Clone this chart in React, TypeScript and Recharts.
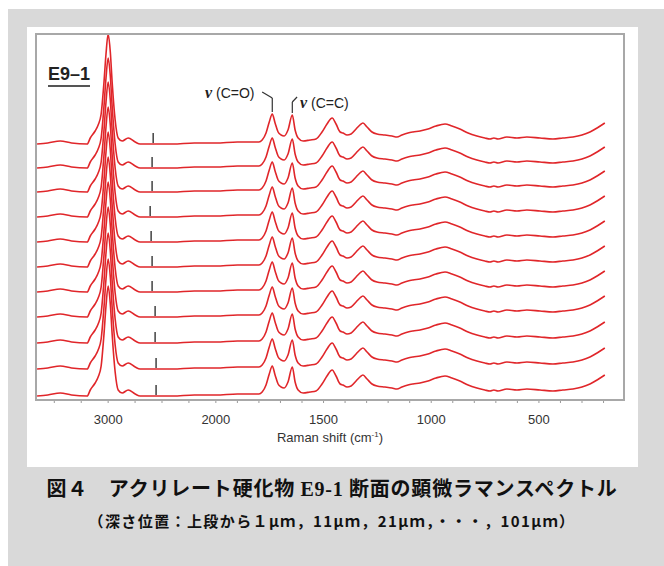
import React from "react"
import { LineChart, Line, XAxis, YAxis, ReferenceLine } from "recharts"

// Raman shift (cm-1) sampled along one spectrum, high to low
const waveNumbers = [
  3660, 3560, 3445, 3340, 3195, 3166, 3121, 3093, 3065, 3040, 3020, 3000, 2980, 2963, 2935, 2907,
  2870, 2814, 2749, 2703, 2590, 2400, 2200, 2000, 1900, 1800, 1785, 1767, 1752, 1738, 1725, 1711,
  1697, 1683, 1665, 1645, 1632, 1618, 1595, 1563, 1535, 1507, 1484, 1460, 1442, 1423, 1410, 1391,
  1372, 1349, 1331, 1317, 1298, 1275, 1252, 1215, 1182, 1159, 1136, 1108, 1085, 1052, 1015, 978,
  936, 904, 867, 829, 788, 751, 727, 709, 690, 649, 602, 556, 495, 435, 389, 342, 300, 263, 230, 194,
]

// intensity above the baseline (same shape for every depth)
const intensity = [
  0, 1, 3, 1, 0, 6, 13, 19, 30, 60, 90, 110, 92, 62, 24, 6,
  3, 6, 2, 0, 0, 0, 1, 1, 2, 2, 4, 11, 22, 30, 21, 12,
  9, 8, 14, 29, 14, 6, 3, 4, 5, 12, 20, 26, 20, 12, 11, 9,
  10, 15, 19, 21, 17, 12, 10, 9, 8, 7, 9, 11, 12, 13, 15, 18,
  20, 18, 15, 11, 8, 6, 5, 6, 5, 7, 6, 7, 6, 5, 6, 7, 9, 12, 16, 21,
]

// depth positions (um) and the vertical offset of each trace
const depths = [1, 11, 21, 31, 41, 51, 61, 71, 81, 91, 101]
const offsets = [256, 232, 208, 183, 158, 133, 108, 83, 57, 31, 4]
const markerShift = [2582, 2592, 2592, 2610, 2601, 2592, 2592, 2564, 2564, 2555, 2555]

const majorTicks = [3000, 2000, 1500, 1000, 500]
const minorTicks = [
  200, 300, 400, 500, 600, 700, 800, 900, 1000, 1100, 1200, 1300, 1400, 1500, 1600, 1700, 1800,
  1900, 2000, 2250, 2500, 2750, 3000, 3250, 3500,
]

// broken axis: above 2000 cm-1 the scale is compressed by half
const toAxis = (w: number) => (w > 2000 ? 2000 + (w - 2000) / 2 : w)
const fromAxis = (u: number) => (u > 2000 ? 2000 + (u - 2000) * 2 : u)

const rows = waveNumbers
  .map((w, i) => {
    const row: Record<string, number> = { u: toAxis(w) }
    depths.forEach((_, k) => {
      row[`s${k}`] = intensity[i] + offsets[k]
    })
    return row
  })
  .sort((a, b) => a.u - b.u)

const yTicks: number[] = []
for (let v = 0; v <= 365; v += 5) yTicks.push(v)

const RED = "#e0262a"
const sans = "'Liberation Sans', Arial, sans-serif"
const jp = "'Noto Sans CJK JP', sans-serif"

export default function App() {
  return (
    <div
      style={{
        position: "absolute",
        left: 0,
        top: 0,
        width: 664,
        height: 566,
        background: "#fff",
        overflow: "hidden",
        fontFamily: sans,
      }}
    >
      <div style={{ position: "absolute", left: 8, top: 9, right: 0, bottom: 0, background: "#d9d9d9" }} />
      <div style={{ position: "absolute", left: 27, top: 27, width: 611, height: 440, background: "#fff" }} />

      <div style={{ position: "absolute", left: 0, top: 0 }}>
        <LineChart width={664} height={430} data={rows} margin={{ top: 34, right: 40, bottom: 0, left: 36 }}>
          <XAxis
            dataKey="u"
            type="number"
            reversed
            domain={[105, 2835]}
            allowDataOverflow
            ticks={minorTicks.map(toAxis)}
            interval={0}
            height={30}
            tickSize={3}
            tickMargin={12}
            stroke="#999"
            tick={{ fill: "#333", fontSize: 13, fontFamily: sans }}
            tickFormatter={(u: number) => {
              const w = Math.round(fromAxis(u))
              return majorTicks.includes(w) ? String(w) : ""
            }}
          />
          <YAxis
            type="number"
            domain={[0, 366]}
            allowDataOverflow
            width={0}
            ticks={yTicks}
            interval={0}
            tickSize={2}
            stroke="#888"
            tickFormatter={() => ""}
          />
          {depths.map((d, k) => (
            <Line
              key={d}
              dataKey={`s${k}`}
              type="monotone"
              stroke={RED}
              strokeWidth={1.6}
              dot={false}
              isAnimationActive={false}
            />
          ))}
          {depths.map((d, k) => (
            <ReferenceLine
              key={`m${d}`}
              segment={[
                { x: toAxis(markerShift[k]), y: offsets[k] + 1 },
                { x: toAxis(markerShift[k]), y: offsets[k] + 11 },
              ]}
              stroke="#333"
              strokeWidth={1.4}
            />
          ))}
          {/* leader for C=O */}
          <ReferenceLine segment={[{ x: 1785, y: 308 }, { x: 1738, y: 302 }]} stroke="#333" strokeWidth={1.2} />
          <ReferenceLine segment={[{ x: 1738, y: 302 }, { x: 1738, y: 288 }]} stroke="#333" strokeWidth={1.2} />
          {/* leader for C=C */}
          <ReferenceLine segment={[{ x: 1645, y: 287 }, { x: 1645, y: 298 }]} stroke="#333" strokeWidth={1.2} />
          <ReferenceLine segment={[{ x: 1645, y: 298 }, { x: 1623, y: 303 }]} stroke="#333" strokeWidth={1.2} />
        </LineChart>
      </div>

      {/* plot frame */}
      <div
        style={{
          position: "absolute",
          left: 35,
          top: 33,
          width: 590,
          height: 368,
          border: "2px solid #a8a8a8",
          boxSizing: "border-box",
          pointerEvents: "none",
        }}
      />

      <div
        style={{
          position: "absolute",
          left: 48,
          top: 64,
          fontSize: 18,
          fontWeight: "bold",
          color: "#222",
          borderBottom: "2px solid #555",
          lineHeight: "20px",
          paddingBottom: 1,
        }}
      >
        E9–1
      </div>

      <div style={{ position: "absolute", left: 205, top: 84, fontSize: 14, color: "#222", whiteSpace: "nowrap" }}>
        <span style={{ fontFamily: "'Liberation Serif', serif", fontStyle: "italic", fontWeight: "bold", fontSize: 16 }}>ν</span> (C=O)
      </div>
      <div style={{ position: "absolute", left: 300, top: 94, fontSize: 14, color: "#222", whiteSpace: "nowrap" }}>
        <span style={{ fontFamily: "'Liberation Serif', serif", fontStyle: "italic", fontWeight: "bold", fontSize: 16 }}>ν</span> (C=C)
      </div>

      <div
        style={{
          position: "absolute",
          left: 230,
          width: 200,
          top: 430,
          textAlign: "center",
          fontSize: 13,
          color: "#333",
        }}
      >
        Raman shift (cm<sup style={{ fontSize: 8 }}>-1</sup>)
      </div>

      <div
        style={{
          position: "absolute",
          left: 0,
          width: 664,
          top: 473,
          textAlign: "center",
          fontFamily: jp,
          fontWeight: "bold",
          fontSize: 20,
          letterSpacing: 0.8,
          color: "#111",
          whiteSpace: "nowrap",
        }}
      >
        図４　アクリレート硬化物 <span style={{ fontFamily: "'Liberation Serif', serif" }}>E9-1</span> 断面の顕微ラマンスペクトル
      </div>
      <div
        style={{
          position: "absolute",
          left: 0,
          width: 664,
          top: 510,
          textAlign: "center",
          fontFamily: jp,
          fontWeight: "bold",
          fontSize: 15,
          letterSpacing: 1.4,
          color: "#111",
          whiteSpace: "nowrap",
        }}
      >
        （深さ位置：上段から１μｍ，11μｍ，21μｍ，・・・，101μｍ）
      </div>
    </div>
  )
}
